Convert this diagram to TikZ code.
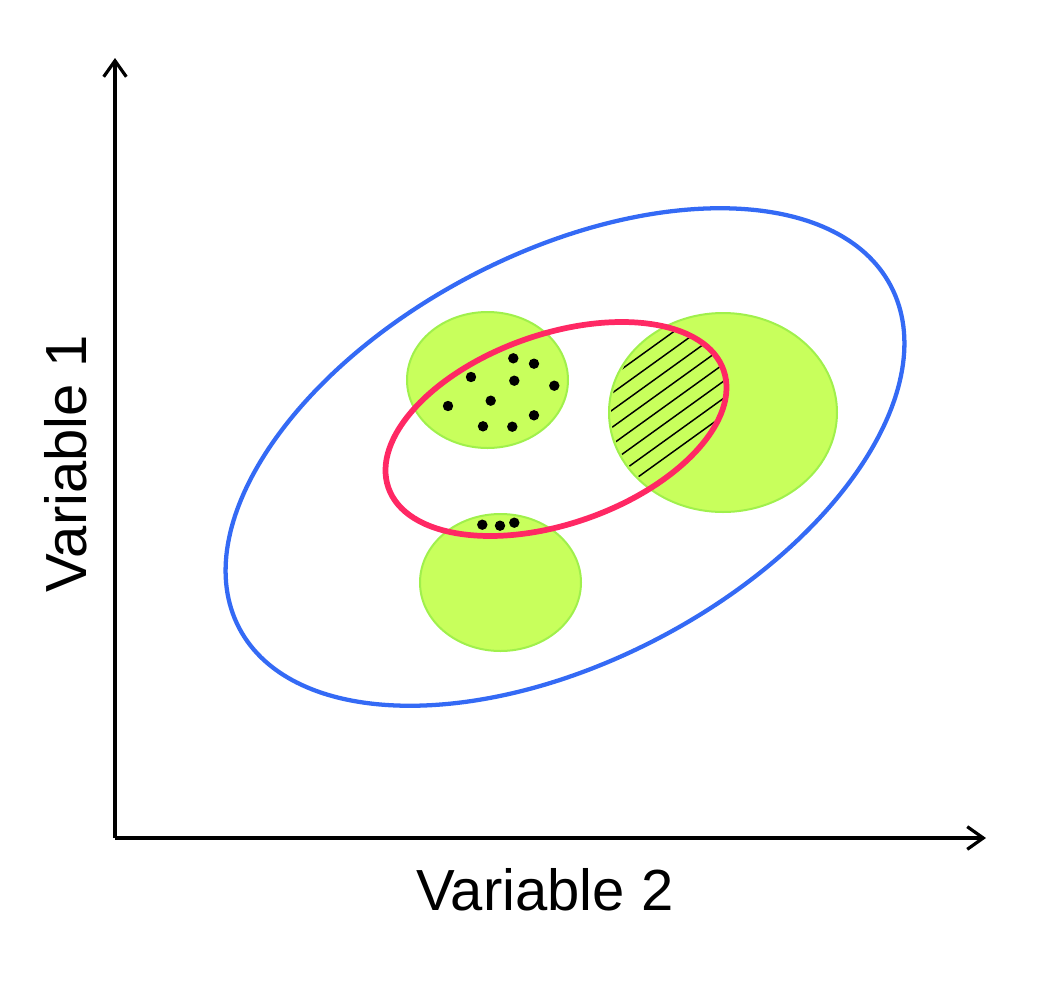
\documentclass[tikz,border=0pt]{standalone}
\usepackage{fontspec}
\setmainfont{Liberation Sans}
\usetikzlibrary{arrows.meta}
\definecolor{bluering}{RGB}{52,106,245}
\definecolor{pinkring}{RGB}{255,40,100}
\definecolor{limefill}{RGB}{200,255,92}
\definecolor{limeedge}{RGB}{160,240,76}
\begin{document}
\begin{tikzpicture}[x=0.75pt,y=0.75pt,
  axis/.style={line width=2.4pt,-{Straight Barb[length=12pt,width=17pt]}},
  blob/.style={fill=limefill,draw=limeedge,line width=1.5pt},
  dot/.style={fill=black},
  hatch/.style={line width=1.1pt,black},
  label/.style={font=\fontsize{43.5}{50}\selectfont}]
\useasboundingbox (0,0) rectangle (1058,-1007);
% axes
\coordinate (origin) at (115,-838);
\coordinate (ytip) at (115,-58);
\coordinate (xtip) at (986,-838);
\draw[axis] (origin) -- (ytip);
\draw[axis] (origin) -- (xtip);
\node[label,rotate=90] (ylab) at (66,-464) {Variable 1};
\node[label] (xlab) at (545,-890) {Variable 2};
% blue ellipse
\draw[bluering,line width=3.2pt,rotate around={27.7:(565,-457)}] (565,-457) ellipse [x radius=368, y radius=204];
% green blobs
\draw[blob] (487.5,-380) ellipse [x radius=80.5, y radius=68];
\draw[blob] (723,-412.5) ellipse [x radius=114, y radius=99.5];
\draw[blob] (500.5,-582.5) ellipse [x radius=80.5, y radius=68.5];
% hatching in intersection
\begin{scope}
  \clip (723,-412.5) ellipse [x radius=112, y radius=97.5];
  \clip[rotate around={19.35:(556,-429)}] (556,-429) ellipse [x radius=177.6, y radius=94.7];
  \foreach \c in {816.7,833.8,850.9,868,885.1,902.2,919.3,936.4}{
    \draw[hatch] (590,{-(\c-0.72*590)}) -- (750,{-(\c-0.72*750)});
  }
\end{scope}
% red ellipse
\draw[pinkring,line width=4.3pt,rotate around={19.35:(556,-429)}] (556,-429) ellipse [x radius=177.6, y radius=94.7];
% dots
\foreach \p in {(513.3,-358.3),(534,-363.7),(471,-377),(514.3,-380.7),(554.3,-385.7),(490.7,-400.7),(448,-406),(534,-415.3),(483,-426.3),(512.3,-426.7),(482.3,-524.7),(500,-525.7),(514.3,-522.7)}{
  \fill[dot] \p circle [radius=5.2];
}
\end{tikzpicture}
\end{document}
